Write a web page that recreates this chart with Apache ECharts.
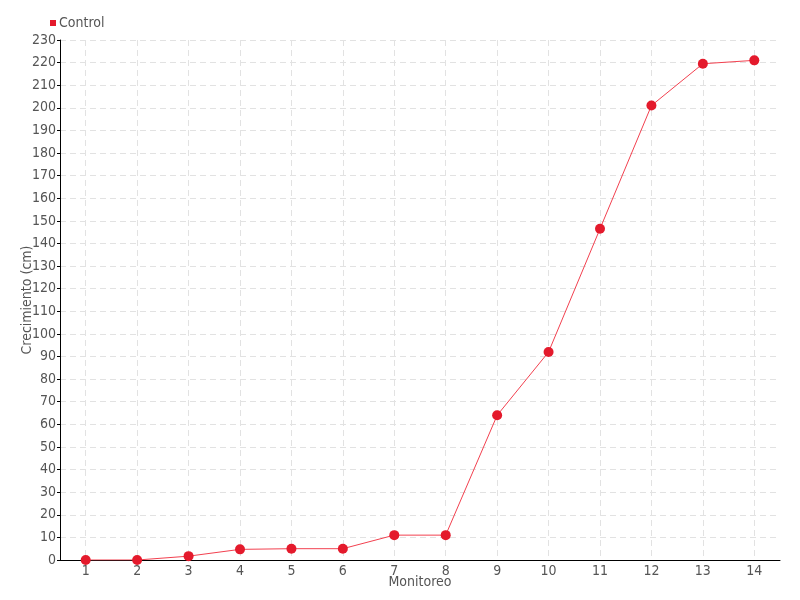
<!DOCTYPE html>
<html>
<head>
    <meta charset="utf-8">
    <script src="https://cdn.jsdelivr.net/npm/echarts@6/dist/echarts.min.js"></script>
    <style>
        html, body { margin: 0; padding: 0; background: #fff; }
        #main { width: 800px; height: 600px; }
    </style>
</head>
<body>
    <div id="main"></div>
    <script>
        var categories = ['1', '2', '3', '4', '5', '6', '7', '8', '9', '10', '11', '12', '13', '14'];
        var controlValues = [0, 0, 1.7, 4.7, 5, 5, 11, 11, 64, 92, 146.5, 201, 219.5, 221];
        var seriesName = 'Control';

        var font = '"Liberation Sans Narrow", "DejaVu Sans Condensed", sans-serif';
        var textColor = '#555';

        var chart = echarts.init(document.getElementById('main'));

        var option = {
            animation: false,
            textStyle: { fontFamily: font },
            legend: {
                left: 45,
                top: 11,
                itemWidth: 6,
                itemHeight: 6,
                itemGap: 10,
                icon: 'rect',
                textStyle: { color: textColor, fontSize: 14, fontFamily: font, padding: [0, 0, 0, -2] },
                data: [seriesName]
            },
            grid: { left: 60, right: 20, top: 40, bottom: 40 },
            xAxis: {
                type: 'category',
                data: categories,
                name: 'Monitoreo',
                nameLocation: 'middle',
                nameGap: 15,
                nameMoveOverlap: false,
                nameTextStyle: { color: textColor, fontSize: 14, fontFamily: font },
                axisLine: { lineStyle: { color: '#000', width: 1 } },
                axisTick: { alignWithLabel: true, length: 4, lineStyle: { color: '#000' } },
                axisLabel: { color: textColor, fontSize: 14, margin: 4, fontFamily: font },
                splitLine: { show: true, alignWithLabel: true, lineStyle: { color: '#e2e2e2', type: [6, 4] } }
            },
            yAxis: {
                type: 'value',
                min: 0,
                max: 230,
                interval: 10,
                name: 'Crecimiento (cm)',
                nameLocation: 'middle',
                nameGap: 26,
                nameMoveOverlap: false,
                nameTextStyle: { color: textColor, fontSize: 14, fontFamily: font },
                axisLine: { show: true, lineStyle: { color: '#000', width: 1 } },
                axisTick: { show: true, length: 3, lineStyle: { color: '#000' } },
                axisLabel: { color: textColor, fontSize: 14, margin: 4, fontFamily: font },
                splitLine: { show: true, lineStyle: { color: '#e2e2e2', type: [6, 4] } }
            },
            series: [{
                name: seriesName,
                type: 'line',
                data: controlValues,
                symbol: 'circle',
                symbolSize: 10,
                itemStyle: { color: '#e41a2c' },
                lineStyle: { color: '#f2404f', width: 1 }
            }]
        };

        chart.setOption(option);
    </script>
</body>
</html>
